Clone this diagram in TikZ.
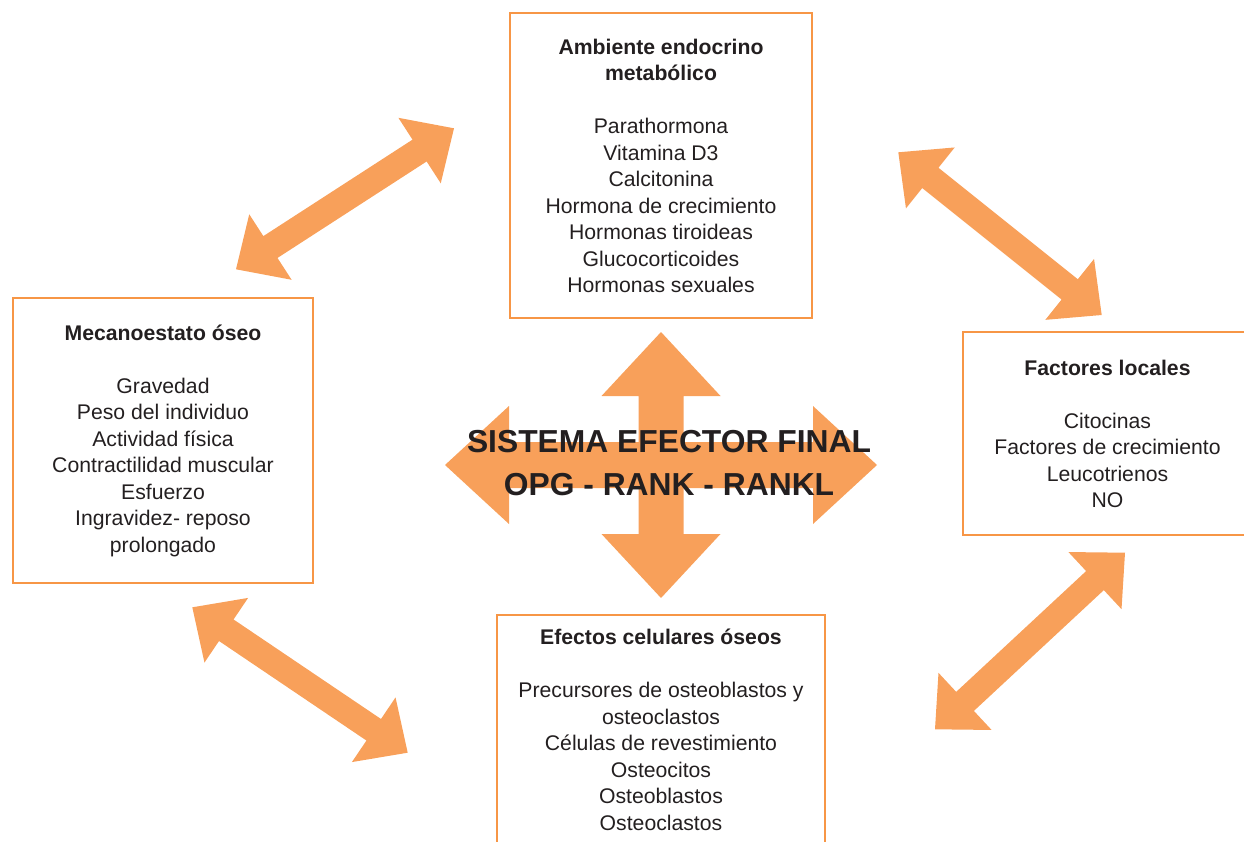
\documentclass[tikz,border=0pt]{standalone}
\usepackage{fontspec}
\setmainfont{Liberation Sans}
\usepackage{tikz}
\usetikzlibrary{calc}

\definecolor{boxorange}{RGB}{247,150,70}
\definecolor{arroworange}{RGB}{248,160,90}
\definecolor{textdark}{RGB}{35,31,32}

% block arrow with a head at both ends
\newcommand{\dualarrow}[2]{%
    \fill[arroworange] (#1)
        -- ($(#1)!41pt!(#2)!39pt!90:(#2)$)
        -- ($(#1)!41pt!(#2)!13pt!90:(#2)$)
        -- ($(#2)!41pt!(#1)!13pt!-90:(#1)$)
        -- ($(#2)!41pt!(#1)!39pt!-90:(#1)$)
        -- (#2)
        -- ($(#2)!41pt!(#1)!39pt!90:(#1)$)
        -- ($(#2)!41pt!(#1)!13pt!90:(#1)$)
        -- ($(#1)!41pt!(#2)!13pt!-90:(#2)$)
        -- ($(#1)!41pt!(#2)!39pt!-90:(#2)$)
        -- cycle;}

\begin{document}
\begin{tikzpicture}[
    x=1pt, y=-1pt,
    box/.style={
        draw=boxorange,
        line width=2.5pt,
        rectangle,
        inner sep=0pt,
        align=center,
        text=textdark,
        font=\fontsize{21.2}{26.5}\selectfont
    },
    central/.style={
        align=center,
        text=textdark,
        font=\bfseries\fontsize{31.8}{43}\selectfont
    }
]

    \useasboundingbox (0,0) rectangle (1244,842);
    \clip (0,0) rectangle (1244,842);

    % Central cross
    \fill[arroworange] (661,332) -- (720.5,396) -- (683.5,396) -- (683.5,442)
        -- (813,442) -- (813,406) -- (877,465) -- (813,524) -- (813,488)
        -- (683.5,488) -- (683.5,534) -- (720.5,534) -- (661,598)
        -- (601.5,534) -- (638.5,534) -- (638.5,488) -- (509,488)
        -- (509,524) -- (445,465) -- (509,406) -- (509,442)
        -- (638.5,442) -- (638.5,396) -- (601.5,396) -- cycle;

    \node[central] (efector) at (669,463)
    {SISTEMA EFECTOR FINAL\\OPG - RANK - RANKL};

    % Boxes
    \node[box, minimum width=302pt, minimum height=305pt] (endocrino) at (661,165.7)
    {\textbf{Ambiente endocrino}\\\textbf{metabólico}\\[26.5pt]
     Parathormona\\Vitamina D3\\Calcitonina\\Hormona de crecimiento\\
     Hormonas tiroideas\\Glucocorticoides\\Hormonas sexuales};

    \node[box, minimum width=300pt, minimum height=285pt] (mecano) at (163,440.5)
    {\textbf{Mecanoestato óseo}\\[26.5pt]
     Gravedad\\Peso del individuo\\Actividad física\\Contractilidad muscular\\
     Esfuerzo\\Ingravidez- reposo\\prolongado};

    \node[box, minimum width=289pt, minimum height=203pt] (locales) at (1107.5,433.7)
    {\textbf{Factores locales}\\[26.5pt]
     Citocinas\\Factores de crecimiento\\Leucotrienos\\NO};

    \node[box, minimum width=328pt, minimum height=230pt] (celulares) at (661,730)
    {\textbf{Efectos celulares óseos}\\[26.5pt]
     Precursores de osteoblastos y\\osteoclastos\\Células de revestimiento\\
     Osteocitos\\Osteoblastos\\Osteoclastos};

    % Arrow ends
    \coordinate (mecano-up) at (236,269.3);
    \coordinate (endocrino-left) at (454,128.3);
    \coordinate (endocrino-right) at (898.3,152.3);
    \coordinate (locales-up) at (1101.7,315);
    \coordinate (mecano-down) at (192.3,607.3);
    \coordinate (celulares-left) at (407.7,752.7);
    \coordinate (celulares-right) at (935,729.3);
    \coordinate (locales-down) at (1125,552.7);

    % Arrows
    \dualarrow{mecano-up}{endocrino-left}
    \dualarrow{endocrino-right}{locales-up}
    \dualarrow{mecano-down}{celulares-left}
    \dualarrow{celulares-right}{locales-down}

\end{tikzpicture}
\end{document}
